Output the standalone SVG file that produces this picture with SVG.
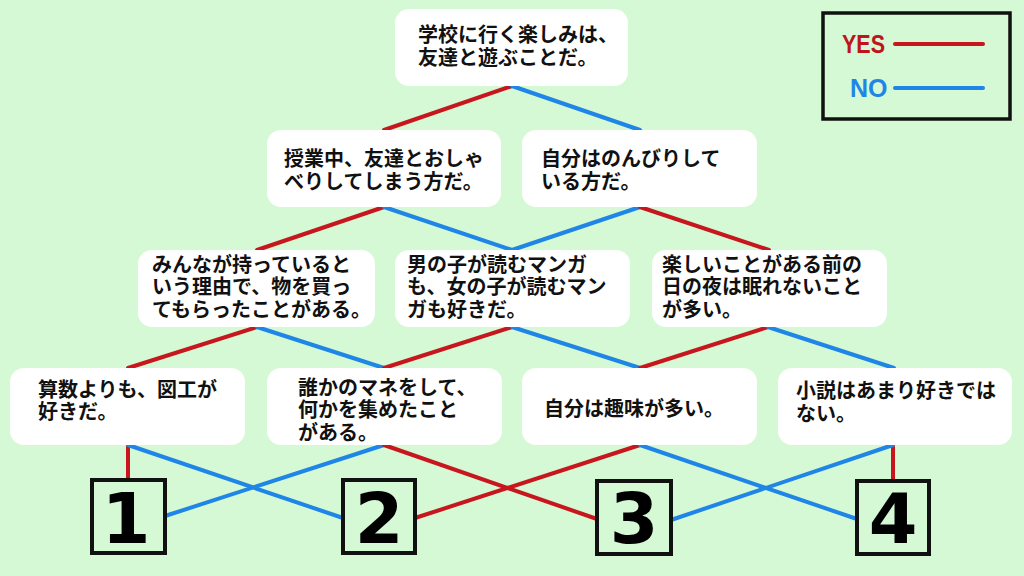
<svg xmlns="http://www.w3.org/2000/svg" width="1024" height="576" viewBox="0 0 1024 576">
<style>
.bg{fill:#d4f9d4}
.box{fill:#ffffff}
.t{font-family:"Liberation Sans","Noto Sans CJK JP",sans-serif;font-weight:700;font-size:20px;fill:#111}
.y{stroke:#c8161e;stroke-width:4;fill:none;stroke-linecap:round}
.n{stroke:#1f85e6;stroke-width:4;fill:none;stroke-linecap:round}
.res{fill:none;stroke:#111;stroke-width:4}
.num{font-family:"DejaVu Sans","Liberation Sans",sans-serif;font-weight:700;font-size:70px;fill:#000;text-anchor:middle}
.lg{font-family:"Liberation Sans","Noto Sans",sans-serif;font-weight:700;font-size:25px}
</style>
<rect class="bg" x="0" y="0" width="1024" height="576"/>
<g id="connectors">
<line class="y" x1="512" y1="86" x2="384" y2="130"/>
<line class="n" x1="512" y1="86" x2="640" y2="130"/>
<line class="y" x1="384" y1="207" x2="257" y2="250"/>
<line class="n" x1="384" y1="207" x2="512" y2="250"/>
<line class="n" x1="640" y1="207" x2="512" y2="250"/>
<line class="y" x1="640" y1="207" x2="769" y2="250"/>
<line class="y" x1="257" y1="327" x2="128" y2="368"/>
<line class="n" x1="257" y1="327" x2="384" y2="368"/>
<line class="y" x1="512" y1="327" x2="384" y2="368"/>
<line class="n" x1="512" y1="327" x2="640" y2="368"/>
<line class="y" x1="768" y1="327" x2="640" y2="368"/>
<line class="n" x1="768" y1="327" x2="894" y2="368"/>
<line class="y" x1="128" y1="445" x2="128" y2="480"/>
<line class="n" x1="128" y1="445" x2="343" y2="518"/>
<line class="n" x1="384" y1="445" x2="165" y2="516"/>
<line class="y" x1="384" y1="445" x2="597" y2="519"/>
<line class="y" x1="640" y1="445" x2="415" y2="518"/>
<line class="n" x1="640" y1="445" x2="857" y2="519"/>
<line class="y" x1="893" y1="445" x2="893" y2="481"/>
<line class="n" x1="893" y1="445" x2="671" y2="520"/>
</g>
<g id="q1"><rect class="box" x="395" y="9" width="233" height="77" rx="14"/>
<text class="t"><tspan x="418" y="42">学校に行く楽しみは、</tspan><tspan x="418" y="64.5">友達と遊ぶことだ。</tspan></text></g>
<g id="q2a"><rect class="box" x="267" y="130" width="234" height="77" rx="14"/>
<text class="t"><tspan x="284" y="166">授業中、友達とおしゃ</tspan><tspan x="284" y="188.5">べりしてしまう方だ。</tspan></text></g>
<g id="q2b"><rect class="box" x="522" y="130" width="235" height="77" rx="14"/>
<text class="t"><tspan x="541" y="166">自分はのんびりして</tspan><tspan x="541" y="188.5">いる方だ。</tspan></text></g>
<g id="q3a"><rect class="box" x="138" y="250" width="237" height="77" rx="14"/>
<text class="t"><tspan x="152" y="271.5">みんなが持っていると</tspan><tspan x="152" y="294">いう理由で、物を買っ</tspan><tspan x="152" y="316.5">てもらったことがある。</tspan></text></g>
<g id="q3b"><rect class="box" x="395" y="250" width="235" height="77" rx="14"/>
<text class="t"><tspan x="407" y="271.5">男の子が読むマンガ</tspan><tspan x="407" y="294">も、女の子が読むマン</tspan><tspan x="407" y="316.5">ガも好きだ。</tspan></text></g>
<g id="q3c"><rect class="box" x="652" y="250" width="235" height="77" rx="14"/>
<text class="t"><tspan x="662" y="271.5">楽しいことがある前の</tspan><tspan x="662" y="294">日の夜は眠れないこと</tspan><tspan x="662" y="316.5">が多い。</tspan></text></g>
<g id="q4a"><rect class="box" x="10" y="368" width="235" height="77" rx="14"/>
<text class="t"><tspan x="38" y="396.5">算数よりも、図工が</tspan><tspan x="38" y="419">好きだ。</tspan></text></g>
<g id="q4b"><rect class="box" x="267" y="368" width="235" height="77" rx="14"/>
<text class="t"><tspan x="298" y="394.5">誰かのマネをして、</tspan><tspan x="298" y="417">何かを集めたこと</tspan><tspan x="298" y="439.5">がある。</tspan></text></g>
<g id="q4c"><rect class="box" x="522" y="368" width="235" height="77" rx="14"/>
<text class="t" x="544" y="416">自分は趣味が多い。</text></g>
<g id="q4d"><rect class="box" x="778" y="368" width="234" height="77" rx="14"/>
<text class="t"><tspan x="796" y="398">小説はあまり好きでは</tspan><tspan x="796" y="420.5">ない。</tspan></text></g>
<g id="r1"><rect class="res" x="92" y="480" width="73" height="73"/><text class="num" x="126" y="543">1</text></g>
<g id="r2"><rect class="res" x="343" y="480" width="72" height="73"/><text class="num" x="379" y="543">2</text></g>
<g id="r3"><rect class="res" x="597" y="481" width="74" height="73"/><text class="num" x="634" y="543">3</text></g>
<g id="r4"><rect class="res" x="857" y="481" width="72" height="73"/><text class="num" x="893" y="543">4</text></g>
<g id="legend">
<rect x="823" y="13" width="187" height="106" fill="none" stroke="#111" stroke-width="3.5"/>
<text class="lg" x="842" y="53" fill="#c0141c" textLength="43" lengthAdjust="spacingAndGlyphs">YES</text>
<line class="y" x1="895" y1="44" x2="983" y2="44"/>
<text class="lg" x="850" y="97" fill="#1f85e6">NO</text>
<line class="n" x1="895" y1="88" x2="983" y2="88"/>
</g>
</svg>
